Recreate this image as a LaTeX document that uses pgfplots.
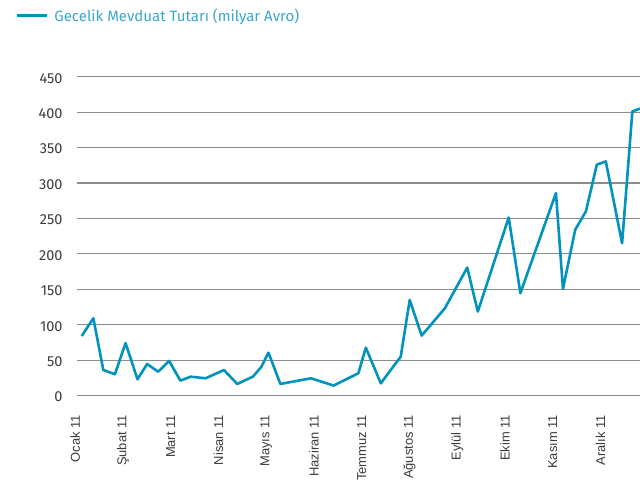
\documentclass[border=0pt]{standalone}
\usepackage{fontspec}
\setmainfont{Liberation Sans}
\newfontfamily\dinfont{Fira Sans}
\usepackage{pgfplots}
\pgfplotsset{compat=1.18}

\definecolor{lineblue}{HTML}{0093BE}
\definecolor{legblue}{HTML}{3AA7D0}
\definecolor{gridgray}{HTML}{8C8C8C}
\definecolor{ticktext}{HTML}{3C3C3C}

% months from Ocak 11 (=0); values in milyar Avro
\pgfplotstableread{
x       y
0.104   84
0.349   109
0.557   36
0.800   30
1.023   74
1.273   23
1.476   44.5
1.706   33.6
1.935   48.8
2.171   21
2.386   26.6
2.699   24.3
3.084   36
3.361   16.3
3.689   26.6
3.862   40
4.015   60.5
4.265   16.3
4.906   24.3
5.380   14
5.898   31.4
6.054   67.6
6.367   17.2
6.785   54.9
6.973   135
7.223   84.6
7.710   123.2
8.177   180.7
8.399   118.5
9.046   251.3
9.290   144.5
10.035  285.8
10.182  150.6
10.438  234
10.662  260
10.891  326
11.079  330.5
11.420  215
11.635  401
11.795  405
}\mevduat

\begin{document}
\begin{tikzpicture}
\useasboundingbox (0,0) rectangle (640bp,485bp);
\begin{axis}[
  at={(76.7bp,89.5bp)}, anchor=south west,
  width=563.3bp, height=318.7bp, scale only axis,
  xmin=0, xmax=11.795,
  ymin=0, ymax=450,
  axis line style={draw=none},
  major tick length=0pt,
  xtick={0,...,11},
  xticklabels={Ocak 11,Şubat 11,Mart 11,Nisan 11,Mayıs 11,Haziran 11,Temmuz 11,Ağustos 11,Eylül 11,Ekim 11,Kasım 11,Aralık 11},
  % shifts are in the rotated frame: x goes up, y goes left
  xticklabel style={rotate=90, anchor=east, inner sep=0pt, xshift=-19.5bp, yshift=1.5bp,
    font=\fontsize{12.9bp}{14bp}\selectfont, text=ticktext},
  ytick={0,50,...,450},
  yticklabel style={anchor=east, inner sep=0pt, xshift=-14bp, yshift=-1.5bp,
    font=\dinfont\fontsize{14.5bp}{16bp}\selectfont, text=ticktext},
  /pgf/number format/assume math mode=true,
  ymajorgrids,
  grid style={gridgray, line width=1.1bp},
  legend style={draw=none, fill=none, inner sep=0pt, at={(-0.1095,1.1917)}, anchor=west,
    font=\dinfont\fontsize{15bp}{17bp}\selectfont, text=legblue,
    nodes={inner sep=0pt}},
  legend image code/.code={\draw[#1] (0bp,0bp) -- (30.7bp,0bp); \path (36.5bp,0bp);},
]
\addplot[lineblue, line width=2.6bp, line join=round] table[x=x, y=y] {\mevduat};
\addlegendentry{Gecelik Mevduat Tutarı (milyar Avro)}
\end{axis}
\end{tikzpicture}
\end{document}
